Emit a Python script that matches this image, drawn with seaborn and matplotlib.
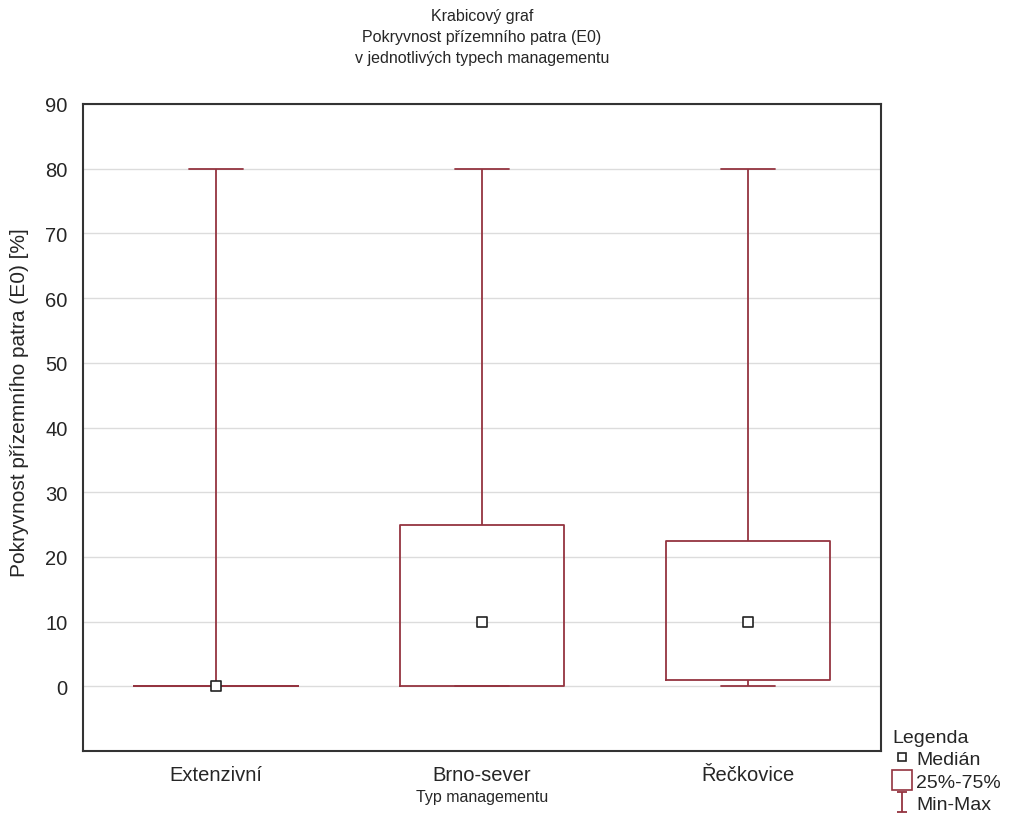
import numpy as np
import pandas as pd
import matplotlib.pyplot as plt
from matplotlib.lines import Line2D
from matplotlib.path import Path
import seaborn as sns

# hodnoty
kategorie = ['Extenzivní', 'Brno-sever', 'Řečkovice']
minima = [0, 0, 0]
q1 = [0, 0, 1]
mediany = [0, 10, 10]
q3 = [0, 25, 22.5]
maxima = [80, 80, 80]

sns.set_style('white')
plt.rcParams['font.family'] = ['Liberation Sans', 'DejaVu Sans']

# pět hodnot na skupinu -> kvartily přesně odpovídají
rows = []
for k, a, b, c, d, e in zip(kategorie, minima, q1, mediany, q3, maxima):
    for v in (a, b, c, d, e):
        rows.append({'typ': k, 'val': v})
df = pd.DataFrame(rows)
med = pd.DataFrame({'typ': kategorie, 'val': mediany})

col = '#943440'
fig = plt.figure(figsize=(10.13, 8.28), dpi=100)
ax = fig.add_axes([83 / 1013, 1 - 752 / 828, 798 / 1013, 647 / 828])

sns.boxplot(data=df, x='typ', y='val', order=kategorie, whis=(0, 100), width=0.62,
            fill=False, color=col, linewidth=1.3, showfliers=False,
            medianprops={'visible': False}, ax=ax)
sns.scatterplot(data=med, x='typ', y='val', marker='s', s=55, facecolor='white',
                edgecolor='#222222', linewidth=1.2, zorder=5, ax=ax)

# krátké příčky min-max
for ln in ax.lines:
    xd = ln.get_xdata()
    yd = ln.get_ydata()
    if len(xd) == 2 and yd[0] == yd[1] and abs(xd[1] - xd[0]) > 0:
        c = (xd[0] + xd[1]) / 2
        ln.set_xdata([c - 0.1, c + 0.1])

ax.set_ylim(-10, 90)
ax.set_xlim(-0.5, 2.5)
ax.set_yticks(np.arange(0, 91, 10))
ax.yaxis.grid(True, color='#dcdcdc', linewidth=1)
ax.set_axisbelow(True)
for s in ax.spines.values():
    s.set_color('#333333')
    s.set_linewidth(1.5)
ax.tick_params(axis='y', labelsize=14.5, length=0, pad=11)
ax.tick_params(axis='x', labelsize=14.5, length=0, pad=10)
ax.set_xlabel('Typ managementu', fontsize=11.5, labelpad=4)
ax.set_ylabel('Pokryvnost přízemního patra (E0) [%]', fontsize=15)
ax.yaxis.set_label_coords(-0.068, 0.54)
ax.set_title('Krabicový graf\nPokryvnost přízemního patra (E0)\nv jednotlivých typech managementu',
             fontsize=11.5, pad=30, linespacing=1.5)

ibeam = Path([(-0.5, -1), (0.5, -1), (0, -1), (0, 1), (-0.5, 1), (0.5, 1)],
             [Path.MOVETO, Path.LINETO, Path.MOVETO, Path.LINETO, Path.MOVETO, Path.LINETO])
handles = [
    Line2D([], [], ls='none', marker='s', ms=6, mfc='white', mec='#222222', mew=1.2),
    Line2D([], [], ls='none', marker='s', ms=14, mfc='white', mec=col, mew=1.2),
    Line2D([], [], ls='none', marker=ibeam, ms=14, mec=col, mew=1.3),
]
leg = fig.legend(handles, ['Medián', '25%-75%', 'Min-Max'], title='Legenda',
                 loc='lower left', bbox_to_anchor=(892 / 1013, 14 / 828), frameon=False,
                 fontsize=14, title_fontsize=14, handlelength=1.0, handletextpad=0.25,
                 labelspacing=0.25, borderaxespad=0, borderpad=0)
leg._legend_box.align = 'left'

fig.savefig('out.png', dpi=100)
